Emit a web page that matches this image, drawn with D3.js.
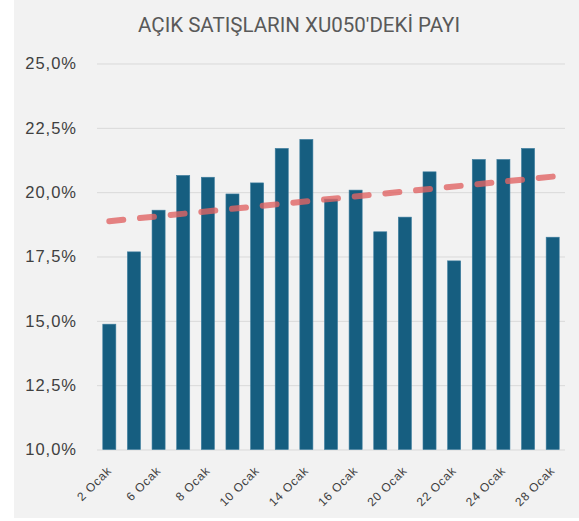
<!DOCTYPE html>
<html>
<head>
<meta charset="utf-8">
<script src="https://cdn.jsdelivr.net/npm/d3@7"></script>
<style>
  html, body { margin: 0; padding: 0; background: #ffffff; }
  svg { display: block; }
</style>
</head>
<body>
<svg id="chart" width="579" height="521"></svg>
<script>
// ---- data ----
const title = "AÇIK SATIŞLARIN XU050'DEKİ PAYI";
const categories = ["2 Ocak","3 Ocak","6 Ocak","7 Ocak","8 Ocak","9 Ocak","10 Ocak","13 Ocak","14 Ocak","15 Ocak",
                    "16 Ocak","17 Ocak","20 Ocak","21 Ocak","22 Ocak","23 Ocak","24 Ocak","27 Ocak","28 Ocak"];
const values = [14.87, 17.68, 19.30, 20.65, 20.58, 19.93, 20.36, 21.70, 22.05, 19.73,
                20.08, 18.46, 19.03, 20.79, 17.33, 21.27, 21.27, 21.70, 18.25];
const shownLabels = ["2 Ocak","6 Ocak","8 Ocak","10 Ocak","14 Ocak","16 Ocak","20 Ocak","22 Ocak","24 Ocak","28 Ocak"];
const yTicks = [10, 12.5, 15, 17.5, 20, 22.5, 25];

(function () {
// ---- layout ----
const svg = d3.select("#chart");
svg.append("rect").attr("x", 14).attr("y", 0).attr("width", 565).attr("height", 518).attr("fill", "#f2f2f2");

const mLeft = 97, mRight = 565, mTop = 63.5, mBottom = 449.5;

const x = d3.scaleBand().domain(categories).range([mLeft, mRight]).paddingInner(0.47).paddingOuter(0.235);
const y = d3.scaleLinear().domain([10, 25]).range([mBottom, mTop]);

// title
svg.append("text")
  .attr("x", 299).attr("y", 32)
  .attr("text-anchor", "middle")
  .attr("font-family", "'Liberation Sans Narrow', 'Roboto', sans-serif")
  .attr("font-size", 21)
  .attr("fill", "#595959")
  .attr("textLength", 322)
  .attr("lengthAdjust", "spacingAndGlyphs")
  .text(title);

// gridlines + y labels
const yAxis = d3.axisLeft(y).tickValues(yTicks).tickSize(-(mRight - mLeft))
  .tickFormat(d => d3.format(".1f")(d).replace(".", ",") + "%");
const gy = svg.append("g").attr("transform", `translate(${mLeft},0)`).call(yAxis);
gy.select(".domain").remove();
gy.selectAll(".tick line").attr("stroke", "#d9d9d9").attr("stroke-width", 1);
gy.selectAll(".tick text")
  .attr("x", -20)
  .attr("fill", "#404040")
  .attr("font-family", "'Liberation Sans', Arial, sans-serif")
  .attr("font-size", 16.5)
  .attr("letter-spacing", 1);

// bars
svg.append("g").selectAll("rect").data(values).join("rect")
  .attr("x", (d, i) => x(categories[i]))
  .attr("width", x.bandwidth())
  .attr("y", d => y(d))
  .attr("height", d => y(10) - y(d))
  .attr("fill", "#165e80")
  .attr("stroke", "#3d7d9e")
  .attr("stroke-width", 0.6);

// linear trendline (least squares over the bar values)
const n = values.length;
const xs = d3.range(n);
const mx = d3.mean(xs), my = d3.mean(values);
const slope = d3.sum(xs, i => (i - mx) * (values[i] - my)) / d3.sum(xs, i => (i - mx) * (i - mx));
const icpt = my - slope * mx;
const trend = [0, n - 1].map(i => [x(categories[i]) + x.bandwidth() / 2, y(icpt + slope * i)]);
const tlen = Math.hypot(trend[1][0] - trend[0][0], trend[1][1] - trend[0][1]);
const dash = 14, nd = 15;
const gap = (tlen - dash * nd) / (nd - 1);
svg.append("path")
  .attr("d", d3.line()(trend))
  .attr("fill", "none")
  .attr("stroke", "#e06464")
  .attr("stroke-opacity", 0.8)
  .attr("stroke-width", 6)
  .attr("stroke-linecap", "round")
  .attr("stroke-dasharray", `${dash},${gap}`);

// x labels
const xAxis = d3.axisBottom(x).tickValues(shownLabels).tickSize(0);
const gx = svg.append("g").attr("transform", `translate(0,${mBottom})`).call(xAxis);
gx.select(".domain").remove();
gx.selectAll(".tick text")
  .attr("fill", "#404040")
  .attr("font-family", "'Liberation Sans', Arial, sans-serif")
  .attr("font-size", 12)
  .attr("letter-spacing", 0.8)
  .attr("text-anchor", "end")
  .attr("dy", 0)
  .attr("transform", "translate(3,22) rotate(-45)")
  .attr("y", 0).attr("x", 0);
})();
</script>
</body>
</html>
